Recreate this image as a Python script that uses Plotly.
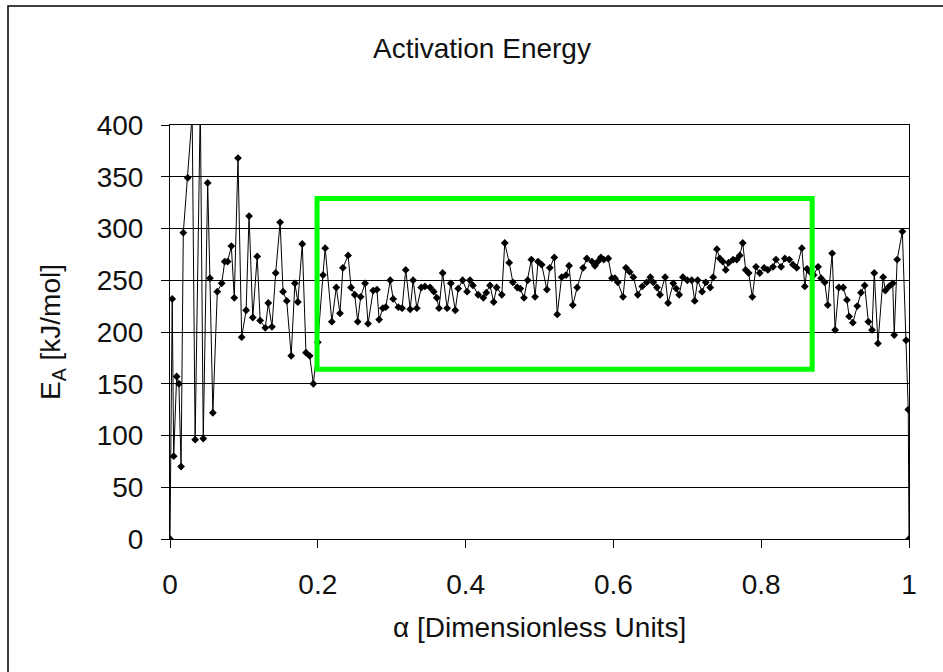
import plotly.graph_objects as go

# alpha values (dimensionless) and activation energy (kJ/mol)
alpha = [
    0.000, 0.003, 0.005, 0.009, 0.012, 0.015, 0.018, 0.024, 0.030, 0.034,
    0.041, 0.045, 0.051, 0.054, 0.058, 0.064, 0.070, 0.074, 0.078, 0.083,
    0.087, 0.092, 0.097, 0.103, 0.107, 0.112, 0.118, 0.122, 0.129, 0.133,
    0.138, 0.143, 0.149, 0.153, 0.158, 0.164, 0.169, 0.173, 0.179, 0.184,
    0.189, 0.194, 0.200, 0.207, 0.210, 0.219, 0.225, 0.230, 0.234, 0.241,
    0.245, 0.250, 0.254, 0.258, 0.264, 0.268, 0.275, 0.280, 0.283, 0.288,
    0.292, 0.298, 0.302, 0.309, 0.314, 0.319, 0.325, 0.329, 0.334, 0.340,
    0.345, 0.352, 0.357, 0.361, 0.364, 0.369, 0.375, 0.380, 0.386, 0.390,
    0.396, 0.402, 0.406, 0.410, 0.417, 0.424, 0.428, 0.433, 0.438, 0.442,
    0.449, 0.453, 0.459, 0.464, 0.470, 0.474, 0.479, 0.484, 0.489, 0.494,
    0.498, 0.503, 0.510, 0.514, 0.520, 0.524, 0.530, 0.536, 0.540, 0.545,
    0.551, 0.559, 0.564, 0.571, 0.575, 0.579, 0.583, 0.587, 0.593, 0.598,
    0.602, 0.606, 0.613, 0.617, 0.622, 0.627, 0.633, 0.639, 0.645, 0.650,
    0.654, 0.659, 0.663, 0.670, 0.674, 0.681, 0.685, 0.689, 0.694, 0.700,
    0.706, 0.710, 0.714, 0.720, 0.725, 0.731, 0.735, 0.740, 0.744, 0.748,
    0.752, 0.756, 0.762, 0.767, 0.771, 0.775, 0.779, 0.783, 0.788, 0.793,
    0.798, 0.804, 0.809, 0.816, 0.820, 0.827, 0.832, 0.838, 0.843, 0.848,
    0.855, 0.859, 0.862, 0.866, 0.871, 0.877, 0.881, 0.886, 0.890, 0.896,
    0.900, 0.905, 0.911, 0.916, 0.919, 0.924, 0.930, 0.935, 0.940, 0.945,
    0.950, 0.953, 0.958, 0.965, 0.968, 0.973, 0.978, 0.980, 0.984, 0.991,
    0.996, 0.999, 1.000,
]
energy = [
    0, 232, 80, 157, 150, 70, 296, 349, 410, 96,
    420, 97, 344, 252, 122, 239, 247, 268, 268, 283,
    233, 368, 195, 221, 312, 214, 273, 211, 204, 228,
    205, 257, 306, 239, 230, 177, 247, 229, 285, 180,
    177, 150, 190, 255, 281, 210, 243, 218, 262, 274,
    243, 236, 210, 234, 247, 208, 240, 241, 212, 223,
    224, 250, 232, 224, 223, 260, 222, 250, 223, 243,
    244, 243, 239, 233, 223, 257, 223, 247, 221, 242,
    250, 239, 250, 245, 236, 233, 238, 245, 229, 243,
    236, 286, 267, 248, 243, 242, 233, 250, 270, 234,
    268, 265, 241, 262, 272, 217, 253, 255, 264, 226,
    243, 262, 271, 268, 264, 268, 272, 270, 271, 252,
    252, 248, 234, 262, 258, 253, 236, 244, 248, 253,
    248, 243, 236, 253, 228, 247, 242, 236, 253, 250,
    250, 230, 250, 239, 248, 243, 253, 280, 271, 268,
    260, 267, 270, 270, 274, 286, 260, 257, 234, 263,
    257, 262, 260, 263, 270, 263, 271, 270, 265, 262,
    281, 244, 261, 258, 255, 263, 252, 248, 226, 276,
    202, 243, 243, 231, 215, 209, 225, 238, 245, 210,
    202, 257, 189, 253, 240, 244, 247, 197, 270, 297,
    192, 125, 0,
]

# highlighted window (alpha range, energy range)
box_alpha = [0.199, 0.869]
box_energy = [164, 329]

x_ticks = [0, 0.2, 0.4, 0.6, 0.8, 1]
x_tick_text = ["0", "0.2", "0.4", "0.6", "0.8", "1"]
y_ticks = [0, 50, 100, 150, 200, 250, 300, 350, 400]

title_text = "Activation Energy"
x_title = "\u03b1 [Dimensionless Units]"
y_title = "E<sub>A</sub> [kJ/mol]"

FONT = "Arial, Liberation Sans, sans-serif"
FS = 28

fig = go.Figure()
fig.add_trace(go.Scatter(
    x=alpha, y=energy, mode="lines+markers",
    line=dict(color="black", width=1),
    marker=dict(symbol="diamond", size=6, color="black"),
    showlegend=False, hoverinfo="x+y",
))

fig.add_shape(type="rect", xref="x", yref="y",
              x0=box_alpha[0], x1=box_alpha[1], y0=box_energy[0], y1=box_energy[1],
              line=dict(color="#00ff00", width=5), fillcolor="rgba(0,0,0,0)")

# outer chart-area border (partly beyond the picture edge, as in the original)
fig.add_shape(type="rect", xref="paper", yref="paper",
              x0=-0.2192, x1=1.06, y0=-0.36, y1=1.2874,
              line=dict(color="black", width=1.5), layer="below")

fig.update_layout(
    width=943, height=672,
    margin=dict(l=170, r=34, t=125, b=133),
    paper_bgcolor="white", plot_bgcolor="white",
    font=dict(family=FONT, size=FS, color="#111111"),
    title=dict(text=title_text, x=482 / 943, xref="container", xanchor="center",
               y=1 - 48 / 672, yref="container", yanchor="middle",
               font=dict(family=FONT, size=FS, color="#111111")),
)
fig.update_xaxes(range=[0, 1], tickvals=x_ticks, ticktext=x_tick_text,
                 showgrid=False, zeroline=False,
                 showline=True, linecolor="black", linewidth=1, mirror=True,
                 ticks="outside", ticklen=8, tickcolor="black", tickwidth=1,
                 ticklabelstandoff=12, tickfont=dict(size=FS))
fig.update_yaxes(range=[0, 400], tickvals=y_ticks,
                 showgrid=True, gridcolor="black", gridwidth=1, zeroline=False,
                 showline=True, linecolor="black", linewidth=1, mirror=True,
                 ticks="outside", ticklen=8, tickcolor="black", tickwidth=1,
                 ticklabelstandoff=12, tickfont=dict(size=FS))

fig.add_annotation(text=x_title, xref="paper", yref="paper",
                   x=0.5, y=-(627 - 539) / 414, xanchor="center", yanchor="middle",
                   showarrow=False, font=dict(family=FONT, size=FS, color="#111111"))
fig.add_annotation(text=y_title, xref="paper", yref="paper",
                   x=(52 - 170) / 739, y=0.5, xanchor="center", yanchor="middle",
                   textangle=-90, showarrow=False,
                   font=dict(family=FONT, size=FS, color="#111111"))

fig.write_html("out.html")
